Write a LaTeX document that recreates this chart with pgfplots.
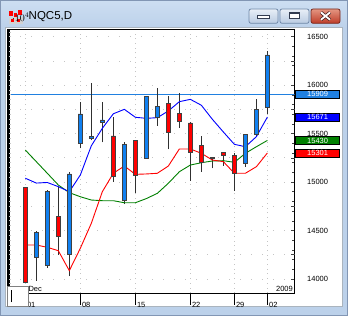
\documentclass[border=0pt]{standalone}
\usepackage{pgfplots}
\pgfplotsset{compat=1.18}
\usepackage{pgfplotstable}
\usepackage{fontspec}
\setmainfont{Liberation Sans}
\definecolor{winblue}{RGB}{188,209,234}
\definecolor{winblueT}{RGB}{205,222,242}
\definecolor{winborder}{RGB}{130,150,180}
\definecolor{panelborder}{RGB}{170,180,190}
\definecolor{candleblue}{RGB}{16,128,240}
\definecolor{candlered}{RGB}{255,0,0}
\definecolor{edge}{RGB}{64,64,64}
\definecolor{wick}{RGB}{48,48,48}
\definecolor{hlinec}{RGB}{32,128,224}
\definecolor{magreen}{RGB}{0,128,0}
\definecolor{gridc}{RGB}{196,196,196}
\definecolor{btnborder}{RGB}{112,136,168}
\definecolor{btntop}{RGB}{232,239,247}
\definecolor{btnbot}{RGB}{186,203,225}
\definecolor{closetop}{RGB}{228,150,130}
\definecolor{closebot}{RGB}{190,60,40}
\definecolor{closeborder}{RGB}{120,40,30}
\definecolor{glyph}{RGB}{50,60,80}
\definecolor{glyphx}{RGB}{60,30,30}

\pgfplotstableread{
i o h l c
0 14946 14946 13966 13966
1 14224 14495 13983 14482
2 14137 14915 14117 14908
3 14650 14950 14250 14437
4 14255 15100 14030 15084
5 15400 15825 15347 15703
6 15448 16020 15434 15468
7 15613 15827 15411 15641
8 15476 15675 15004 15060
9 14810 15410 14772 15390
10 15434 15434 14891 15068
11 15249 15888 15249 15888
12 15672 15968 15582 15782
13 15816 15888 15338 15514
14 15713 15919 15561 15627
15 15610 15620 15014 15307
16 15380 15473 15107 15200
17 15250 15262 15142 15242
18 15303 15310 15169 15280
19 15277 15303 14911 15087
20 15194 15493 15159 15493
21 15489 15858 15469 15751
22 15772 16353 15703 16312
}\candles

\pgfplotstableread{
i blue red green
0 15040 14351 15331
1 14990 14351 15211
2 14996 14327 15091
3 14953 14292 14970
4 14901 14086 14891
5 15073 14317 14849
6 15375 14575 14815
7 15555 14901 14808
8 15705 15091 14808
9 15751 15166 14787
10 15669 15080 14787
11 15658 15084 14830
12 15665 15091 14884
13 15734 15166 14988
14 15830 15342 15107
15 15854 15342 15176
16 15793 15297 15200
17 15648 15228 15218
18 15517 15211 15221
19 15390 15091 15204
20 15365 15091 15297
21 15469 15159 15365
22 15671 15301 15430
}\mas

\begin{document}
\begin{tikzpicture}[x=1pt,y=1pt]
% window background
\fill[winblue] (0,0) rectangle (348,316);
\shade[top color=winblueT, bottom color=winblue] (0,288) rectangle (348,316);
\draw[winborder, line width=0.8pt] (0.4,0.4) rectangle (347.6,315.6);
% inner panel
\filldraw[fill=white, draw=panelborder, line width=0.8pt] (5,9.5) rectangle (342,288.5);

% title + icon
\fill[gray!35] (8.5,292) rectangle (22.5,298.5);
\fill[red] (9,300) rectangle (13,305);
\fill[red] (14,298.5) rectangle (16.5,303);
\fill[red] (18,301) rectangle (22,305.5);
\fill[red] (11,293.5) rectangle (14,297);
\fill[red] (17,293.5) rectangle (20,296.5);
\node[anchor=base west, inner sep=0pt, font=\fontsize{11.5}{12}\selectfont] at (28.5,296.5) {NQC5,D};

% buttons
\draw[rounded corners=2pt, draw=btnborder, line width=0.8pt, top color=btntop, bottom color=btnbot] (249,292.7) rectangle (278,307);
\draw[rounded corners=2pt, draw=btnborder, line width=0.8pt, top color=btntop, bottom color=btnbot] (280,292.7) rectangle (309,307);
\draw[rounded corners=2pt, draw=closeborder, line width=0.8pt, top color=closetop, bottom color=closebot] (311,292.7) rectangle (340,307);
\filldraw[fill=white, draw=glyph, line width=0.6pt] (257.5,297.8) rectangle (269,300.8);
\filldraw[fill=white, draw=glyph, line width=0.7pt] (289.5,297.3) rectangle (299,303.5);
\draw[glyph, line width=1.5pt] (289.5,303) -- (299,303);
\draw[glyphx, line width=3.2pt] (321,296.3) -- (330,303.6) (321,303.6) -- (330,296.3);
\draw[white, line width=1.8pt] (321,296.3) -- (330,303.6) (321,303.6) -- (330,296.3);

% main axis: grid, lines, wicks, ticks
\begin{axis}[
  at={(9pt,23pt)}, anchor=south west, scale only axis,
  width=285.5pt, height=263.5pt,
  xmin=-1.482, xmax=24.464, ymin=13855.5, ymax=16574.8,
  axis line style={black, line width=1pt},
  ytick={14000,14500,...,16500},
  scaled y ticks=false,
  minor y tick num=4,
  ytick pos=right, yticklabel pos=right,
  ytick align=inside,
  major tick length=4pt, minor tick length=2.5pt,
  ytick style={black!75, line width=0.7pt},
  minor tick style={gray!60, line width=0.7pt},
  yticklabel style={anchor=west, inner sep=0pt, xshift=12.5pt, font=\fontsize{7.5}{8}\selectfont,
    /pgf/number format/fixed, /pgf/number format/precision=0},
  /pgf/number format/assume math mode=true,
  /pgf/number format/1000 sep={},
  xtick={0,5,10,15,19,22},
  xticklabels={01,08,15,22,29,02},
  xtick pos=left, xtick align=outside,
  xtick style={black, line width=0.8pt, /pgfplots/major tick length=12pt},
  xticklabel style={anchor=base west, inner sep=0pt, xshift=1.5pt, yshift=-10pt, font=\fontsize{7.5}{8}\selectfont},
  ymajorgrids, xmajorgrids,
  y grid style={gridc, line width=0.8pt, dash pattern=on 0.8pt off 10.2pt},
  x grid style={gridc, line width=0.8pt, dash pattern=on 0.8pt off 3.9pt},
  extra y ticks={14250,14750,15250,15750,16250},
  extra y tick labels={},
  extra y tick style={major grid style={gridc, line width=0.8pt, dash pattern=on 0.8pt off 32pt}},
]
\addplot[hlinec, line width=1pt] coordinates {(-1.6,15909) (24.6,15909)};
\addplot[draw=none, mark=none, error bars/.cd, y dir=plus, y explicit, error mark=none,
  error bar style={draw=wick, line width=1pt, solid}]
  table[x=i, y=l, y error expr=\thisrow{h}-\thisrow{l}] {\candles};
\addplot[magreen, line width=0.9pt] table[x=i, y=green] {\mas};
\addplot[red, line width=0.9pt] table[x=i, y=red] {\mas};
\addplot[blue, line width=0.9pt] table[x=i, y=blue] {\mas};
\end{axis}

% body axis: candle bodies and price labels
\begin{axis}[
  at={(9pt,23pt)}, anchor=south west, scale only axis,
  width=285.5pt, height=263.5pt,
  xmin=-1.482, xmax=24.464, ymin=13855.5, ymax=16574.8,
  axis line style={draw=none},
  xtick=\empty,
  ytick={13900,13950,...,16550}, ytick pos=left, yticklabels={}, ytick align=inside,
  major tick length=2pt, ytick style={gray!45, line width=0.8pt},
  ybar stacked, bar width=4.2pt,
  clip mode=individual,
]
\addplot[draw=none, fill=none] table[x=i, y expr={min(\thisrow{o},\thisrow{c})}] {\candles};
\addplot[fill=candleblue, draw=edge, line width=0.9pt] table[x=i, y expr={max(\thisrow{c}-\thisrow{o},0)}] {\candles};
\addplot[fill=candlered, draw=edge, line width=0.9pt] table[x=i, y expr={max(\thisrow{o}-\thisrow{c},0)}] {\candles};
\tikzset{pricebox/.style={draw=black, line width=0.6pt, text=white, anchor=west, minimum width=44pt, minimum height=8pt, inner sep=0pt, xshift=0.8pt, font=\fontsize{7.5}{8}\selectfont}}
\node[pricebox, fill=hlinec] at (axis cs:24.464,15909) {15909};
\node[pricebox, fill=blue] at (axis cs:24.464,15671) {15671};
\node[pricebox, fill=magreen] at (axis cs:24.464,15430) {15430};
\node[pricebox, fill=red] at (axis cs:24.464,15301) {15301};
\end{axis}

% frame accents and labels
\draw[black, line width=2pt] (8,22.5) -- (8,287);
\node[anchor=base west, inner sep=0pt, font=\fontsize{7.5}{8}\selectfont] at (28.3,24.3) {Dec};
\node[anchor=base east, inner sep=0pt, font=\fontsize{7.5}{8}\selectfont] at (293,24.3) {2009};
\filldraw[fill=white, draw=gray, line width=0.8pt] (7.5,9.5) rectangle (28.3,29.3);
\draw[black, line width=0.8pt] (11,14) -- (11,26);
\end{tikzpicture}
\end{document}
